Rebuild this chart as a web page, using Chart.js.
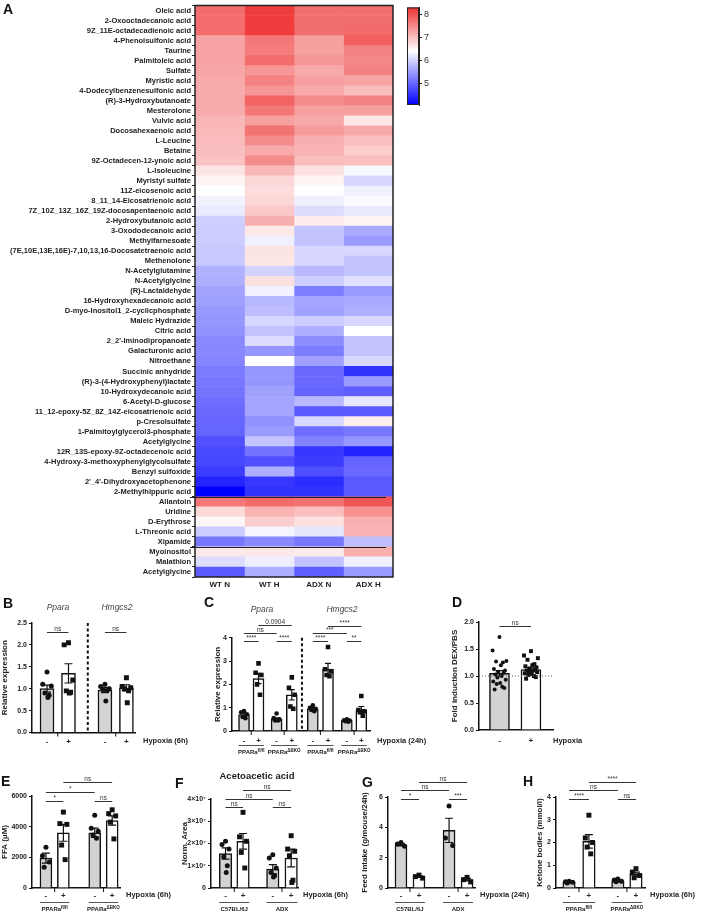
<!DOCTYPE html>
<html>
<head>
<meta charset="utf-8">
<script src="https://cdn.jsdelivr.net/npm/chart.js@4.4.1/dist/chart.umd.min.js"></script>
<style>
  body { margin: 0; background: #fff; width: 709px; height: 915px; position: relative; overflow: hidden;
         font-family: "Liberation Sans", Arial, sans-serif; color: #222; }
  canvas { position: absolute; }
  .t { position: absolute; white-space: nowrap; line-height: 1; }
  .c { transform: translate(-50%, -50%); }
  .l { transform: translateY(-50%); }
  .let { font-weight: bold; font-size: 14px; color: #111; }
  .hyp { font-weight: bold; font-size: 7.5px; }
  .grp { font-weight: bold; font-size: 6px; }
  .gene { font-style: italic; font-size: 8.5px; color: #444; }
  sup { font-size: 75%; position: relative; top: -0.4em; vertical-align: baseline; }
</style>
</head>
<body>
<script>
// ---------- heatmap (panel A) ----------
const metabolites = ['Oleic acid', '2-Oxooctadecanoic acid', '9Z_11E-octadecadienoic acid', '4-Phenolsulfonic acid',
  'Taurine', 'Palmitoleic acid', 'Sulfate', 'Myristic acid', '4-Dodecylbenzenesulfonic acid', '(R)-3-Hydroxybutanoate',
  'Mesterolone', 'Vulvic acid', 'Docosahexaenoic acid', 'L-Leucine', 'Betaine', '9Z-Octadecen-12-ynoic acid',
  'L-Isoleucine', 'Myristyl sulfate', '11Z-eicosenoic acid', '8_11_14-Eicosatrienoic acid',
  '7Z_10Z_13Z_16Z_19Z-docosapentaenoic acid', '2-Hydroxybutanoic acid', '3-Oxododecanoic acid', 'Methylfarnesoate',
  '(7E,10E,13E,16E)-7,10,13,16-Docosatetraenoic acid', 'Methenolone', 'N-Acetylglutamine', 'N-Acetylglycine',
  '(R)-Lactaldehyde', '16-Hydroxyhexadecanoic acid', 'D-myo-Inositol1_2-cyclicphosphate', 'Maleic Hydrazide',
  'Citric acid', "2_2'-Iminodipropanoate", 'Galacturonic acid', 'Nitroethane', 'Succinic anhydride',
  '(R)-3-(4-Hydroxyphenyl)lactate', '10-Hydroxydecanoic acid', '6-Acetyl-D-glucose',
  '11_12-epoxy-5Z_8Z_14Z-eicosatrienoic acid', 'p-Cresolsulfate', '1-Palmitoylglycerol3-phosphate', 'Acetylglycine',
  '12R_13S-epoxy-9Z-octadecenoic acid', '4-Hydroxy-3-methoxyphenylglycolsulfate', 'Benzyl sulfoxide',
  "2'_4'-Dihydroxyacetophenone", '2-Methylhippuric acid', 'Allantoin', 'Uridine', 'D-Erythrose', 'L-Threonic acid',
  'Xipamide', 'Myoinositol', 'Malathion', 'Acetylglycine'];

const wtN = [7.75, 7.75, 7.75, 7.25, 7.25, 7.25, 7.22, 7.2, 7.2, 7.2, 7.18, 7.08, 7.05, 7.03, 7.0, 6.97, 6.65, 6.5, 6.4,
  6.28, 6.22, 5.95, 5.93, 5.93, 5.9, 5.9, 5.68, 5.65, 5.55, 5.52, 5.45, 5.43, 5.4, 5.32, 5.3, 5.28, 5.18, 5.15, 5.12,
  5.05, 5.02, 5.0, 4.97, 4.8, 4.72, 4.7, 4.6, 4.38, 4.05, 7.65, 6.74, 6.47, 5.93, 5.15, 6.6, 6.08, 4.88];
const wtH = [8.2, 8.2, 8.2, 7.65, 7.6, 7.75, 7.37, 7.56, 7.37, 7.84, 7.65, 7.28, 7.7, 7.47, 7.19, 7.47, 7.05, 6.77, 6.72,
  6.77, 6.91, 7.14, 6.61, 6.26, 6.65, 6.63, 5.99, 6.68, 6.26, 5.75, 5.8, 6.03, 5.85, 6.08, 5.43, 6.4, 5.43, 5.43, 5.52,
  5.57, 5.57, 5.39, 5.48, 5.85, 5.11, 4.78, 5.66, 4.56, 4.51, 7.77, 7.1, 6.86, 6.31, 5.3, 6.63, 6.24, 5.66];
const adxN = [7.74, 7.74, 7.74, 7.28, 7.28, 7.37, 7.19, 7.28, 7.19, 7.47, 7.28, 7.19, 7.33, 7.14, 7.1, 7.0, 6.68, 6.49,
  6.4, 6.26, 6.08, 6.58, 5.85, 5.85, 6.03, 6.03, 5.75, 5.94, 5.2, 5.57, 5.52, 5.94, 5.66, 5.34, 5.2, 5.52, 5.02, 5.02,
  4.97, 5.75, 4.88, 6.03, 5.06, 5.25, 4.56, 4.6, 4.78, 4.46, 4.51, 7.7, 7.0, 6.68, 6.17, 5.15, 6.58, 5.85, 4.93];
const adxH = [7.74, 7.74, 7.78, 7.88, 7.56, 7.51, 7.56, 7.24, 7.0, 7.56, 7.28, 6.63, 7.19, 7.0, 6.86, 7.0, 6.33, 6.03,
  6.26, 6.35, 6.21, 6.49, 5.62, 5.48, 6.03, 5.85, 5.85, 6.12, 5.48, 5.62, 5.66, 6.03, 6.4, 5.85, 5.85, 6.03, 4.51, 5.48,
  4.93, 6.17, 4.88, 6.57, 5.15, 5.43, 4.37, 4.97, 5.02, 4.88, 4.88, 7.97, 7.42, 7.14, 7.1, 5.8, 7.14, 6.26, 5.48];
const heatCols = ['WT N', 'WT H', 'ADX N', 'ADX H'];
const separatorsAfter = [48, 53];

// colour scale
const cbMin = 4.05, cbMid = 6.4, cbMax = 8.3;
const cbTicks = [5, 6, 7, 8];

// ---------- panel B ----------
const bSigns = ['-', '+', '-', '+'];
const bMean = [1.0, 1.35, 0.97, 1.02];
const bSem = [0.08, 0.22, 0.06, 0.07];
const bPts = [[1.38, 1.1, 1.06, 0.9, 0.85, 0.8], [2.05, 2.0, 1.2, 0.95, 0.92, 0.9],
  [1.1, 1.05, 1.0, 0.98, 0.96, 0.72], [1.25, 1.05, 1.02, 1.0, 0.95, 0.68]];
const bSig = [[0, 1, 2.3, 'ns'], [2, 3, 2.3, 'ns']];

// ---------- panel C ----------
const cSigns = ['-', '+', '-', '+', '-', '+', '-', '+'];
const cMean = [0.7, 2.25, 0.5, 1.55, 0.95, 2.65, 0.45, 0.9];
const cSem = [0.06, 0.22, 0.06, 0.22, 0.05, 0.25, 0.02, 0.15];
const cPts = [[0.85, 0.8, 0.72, 0.6, 0.55], [2.9, 2.5, 2.4, 2.0, 1.55], [0.75, 0.55, 0.5, 0.45, 0.45],
  [2.3, 1.85, 1.55, 1.05, 0.95], [1.1, 1.0, 0.95, 0.9, 0.85], [3.6, 2.65, 2.55, 2.4, 2.35],
  [0.5, 0.46, 0.45, 0.42, 0.4], [1.5, 0.9, 0.85, 0.8, 0.65]];
const cSig = [[0, 1, 3.87, '****'], [2, 3, 3.87, '****'], [4, 5, 3.87, '****'], [6, 7, 3.87, '**'],
  [0, 2, 4.21, 'ns'], [1, 3, 4.56, '0.0904'], [4, 6, 4.21, '***'], [5, 7, 4.51, '****']];

// ---------- panel D ----------
const dSigns = ['-', '+'];
const dMean = [1.05, 1.12];
const dSem = [0.05, 0.03];
const dPts = [[1.72, 1.47, 1.28, 1.27, 1.25, 1.2, 1.13, 1.1, 1.08, 1.06, 1.03, 1.0, 0.97, 0.93, 0.9, 0.87, 0.85, 0.8, 0.78, 0.75],
  [1.46, 1.38, 1.33, 1.3, 1.22, 1.2, 1.18, 1.16, 1.14, 1.12, 1.1, 1.1, 1.08, 1.07, 1.05, 1.04, 1.02, 1.0, 0.98, 0.95]];
const dSig = [[0, 1, 1.93, 'ns']];

// ---------- panel E ----------
const eMean = [1950, 3600, 3600, 4400];
const eSem = [330, 550, 300, 300];
const ePts = [[2650, 2100, 1700, 1350], [4950, 4200, 4150, 2800, 1850], [4750, 3900, 3700, 3450, 3250],
  [5100, 4850, 4700, 4300, 3200]];
const eSig = [[0, 1, 5700, '*'], [0, 2, 6280, '*'], [1, 3, 6900, 'ns'], [2, 3, 5700, 'ns']];

// ---------- panel F (x 10^7) ----------
const fMean = [1.55e7, 2.1e7, 0.85e7, 1.35e7];
const fSem = [0.25e7, 0.35e7, 0.2e7, 0.4e7];
const fPts = [[2.1e7, 1.95e7, 1.75e7, 1.4e7, 1.0e7, 0.7e7], [3.4e7, 2.3e7, 2.1e7, 1.6e7, 0.9e7],
  [1.5e7, 1.35e7, 0.9e7, 0.7e7, 0.55e7, 0.5e7], [2.35e7, 1.75e7, 1.65e7, 1.45e7, 0.35e7, 0.25e7]];
const fSig = [[0, 1, 3.64e7, 'ns'], [0, 2, 4.0e7, 'ns'], [1, 3, 4.4e7, 'ns'], [2, 3, 3.64e7, 'ns']];

// ---------- panel G ----------
const gMean = [2.85, 0.75, 3.8, 0.55];
const gSem = [0.08, 0.05, 0.8, 0.08];
const gPts = [[3.0, 2.9, 2.75], [0.85, 0.75, 0.65], [5.4, 3.3, 2.8], [0.7, 0.55, 0.4]];
const gSig = [[0, 1, 5.87, '*'], [0, 2, 6.46, 'ns'], [1, 3, 7.0, 'ns'], [2, 3, 5.87, '***']];

// ---------- panel H ----------
const hMean = [0.25, 2.05, 0.3, 0.6];
const hSem = [0.03, 0.3, 0.03, 0.1];
const hPts = [[0.3, 0.28, 0.25, 0.22], [3.2, 2.2, 2.0, 1.8, 1.5], [0.4, 0.35, 0.3, 0.28], [0.85, 0.7, 0.55, 0.45]];
const hSig = [[0, 1, 3.9, '****'], [0, 2, 4.3, 'ns'], [1, 3, 4.65, '****'], [2, 3, 3.9, 'ns']];

const pairSigns = ['-', '+', '-', '+'];
const jitter = [0, -1, 1, -0.5, 0.5, 0.2, -0.8, 0.8, -0.2, 0.6, -0.6, 0.3, -0.3, 0.9, -0.9, 0.1, -0.4, 0.4, 0.7, -0.7];

const GRAY = '#d3d3d3', WHITE = '#ffffff';
Chart.defaults.font.family = '"Liberation Sans", Arial, sans-serif';
Chart.defaults.color = '#222';

function addCanvas(left, top, w, h) {
  const c = document.createElement('canvas');
  c.width = w; c.height = h;
  c.style.left = left + 'px'; c.style.top = top + 'px';
  c.style.width = w + 'px'; c.style.height = h + 'px';
  document.body.appendChild(c);
  return c;
}

function addText(html, x, y, cls, anchor) {
  const d = document.createElement('div');
  d.className = 't ' + (anchor || 'c') + ' ' + cls;
  d.style.left = x + 'px'; d.style.top = y + 'px';
  d.innerHTML = html;
  document.body.appendChild(d);
  return d;
}

function heatColor(v) {
  if (v >= cbMid) {
    const t = Math.min(1, (v - cbMid) / (cbMax - cbMid));
    return `rgb(${Math.round(255 - 17 * t)},${Math.round(255 - 205 * t)},${Math.round(255 - 205 * t)})`;
  }
  const t = Math.min(1, (cbMid - v) / (cbMid - cbMin));
  const c = Math.round(255 * (1 - t));
  return `rgb(${c},${c},255)`;
}

const heatFrame = {
  id: 'heatFrame',
  afterDraw(chart) {
    const { ctx, chartArea: a, scales: { y } } = chart;
    ctx.save();
    ctx.strokeStyle = '#222';
    ctx.lineWidth = 1;
    separatorsAfter.forEach(i => {
      const yy = Math.round((y.getPixelForValue(i) + y.getPixelForValue(i + 1)) / 2) + 0.5;
      ctx.beginPath(); ctx.moveTo(a.left - 5, yy); ctx.lineTo(a.right - 7, yy); ctx.stroke();
    });
    ctx.lineWidth = 1.5;
    ctx.strokeRect(a.left, a.top, a.right - a.left, a.bottom - a.top);
    ctx.restore();
  }
};

// heatmap: one stacked horizontal bar per column, each cell coloured by its value
const heatCanvas = addCanvas(0, 0, 400, 595);
new Chart(heatCanvas, {
  type: 'bar',
  data: {
    labels: metabolites,
    datasets: [wtN, wtH, adxN, adxH].map((vals, c) => ({
      label: heatCols[c],
      data: vals.map(() => 1),
      backgroundColor: vals.map(heatColor),
      borderWidth: 0,
      barPercentage: 1,
      categoryPercentage: 1
    }))
  },
  options: {
    indexAxis: 'y',
    responsive: false,
    animation: false,
    layout: { padding: { top: 3, right: 7, left: 0, bottom: 0 } },
    plugins: { legend: { display: false }, tooltip: { enabled: false } },
    scales: {
      x: {
        type: 'linear', stacked: true, min: 0, max: 4,
        grid: { display: false, drawTicks: false }, border: { display: false },
        afterBuildTicks: a => { a.ticks = heatCols.map((_, i) => ({ value: i + 0.5 })); },
        ticks: { autoSkip: false, maxRotation: 0, padding: 3, font: { size: 8, weight: 'bold' }, color: '#222',
          callback: (v, i) => heatCols[i] },
        afterFit: a => { a.height = 18; }
      },
      y: {
        stacked: true,
        grid: { drawOnChartArea: false, tickLength: 3, color: '#222' }, border: { display: false },
        ticks: { autoSkip: false, padding: 1, font: { size: 7.5, weight: 'bold' }, color: '#222' },
        afterFit: a => { a.width = 195; }
      }
    }
  },
  plugins: [heatFrame]
});

// colour bar
const cbCanvas = addCanvas(400, 0, 45, 115);
new Chart(cbCanvas, {
  type: 'bar',
  data: {
    labels: [''],
    datasets: [{
      data: [[cbMin, cbMax]],
      backgroundColor: ctx => {
        const a = ctx.chart.chartArea;
        if (!a) return '#fff';
        const g = ctx.chart.ctx.createLinearGradient(0, a.bottom, 0, a.top);
        g.addColorStop(0, heatColor(cbMin));
        g.addColorStop((cbMid - cbMin) / (cbMax - cbMin), heatColor(cbMid));
        g.addColorStop(1, heatColor(cbMax));
        return g;
      },
      borderWidth: 0, barPercentage: 1, categoryPercentage: 1
    }]
  },
  options: {
    responsive: false, animation: false,
    layout: { padding: { left: 7, top: 3, bottom: 10, right: 0 } },
    plugins: { legend: { display: false }, tooltip: { enabled: false } },
    scales: {
      x: { display: false },
      y: {
        position: 'right', min: cbMin, max: cbMax,
        grid: { drawOnChartArea: false, tickLength: 3, color: '#222' },
        border: { color: '#222', width: 1 },
        afterBuildTicks: a => { a.ticks = cbTicks.map(v => ({ value: v })); },
        ticks: { padding: 2, font: { size: 9 }, color: '#333' },
        afterFit: a => { a.width = 26; }
      }
    }
  },
  plugins: [{
    id: 'cbFrame',
    afterDraw(chart) {
      const { ctx, chartArea: a } = chart;
      ctx.save(); ctx.strokeStyle = '#222'; ctx.lineWidth = 1;
      ctx.strokeRect(a.left + 0.5, a.top + 0.5, a.right - a.left - 1, a.bottom - a.top - 1);
      ctx.restore();
    }
  }]
});

// error bars, significance brackets, reference lines, group ticks
function marks(cfg) {
  return {
    id: 'marks',
    afterDatasetsDraw(chart) {
      const { ctx, chartArea: a, scales: { x, y } } = chart;
      ctx.save();
      ctx.strokeStyle = '#111';
      ctx.lineWidth = 1.2;
      cfg.pos.forEach((p, i) => {
        const px = x.getPixelForValue(p);
        const top = y.getPixelForValue(cfg.mean[i] + cfg.sem[i]);
        const bot = y.getPixelForValue(Math.max(0, cfg.mean[i] - cfg.sem[i]));
        ctx.beginPath();
        ctx.moveTo(px, top); ctx.lineTo(px, bot);
        ctx.moveTo(px - cfg.cap, top); ctx.lineTo(px + cfg.cap, top);
        ctx.moveTo(px - cfg.cap, bot); ctx.lineTo(px + cfg.cap, bot);
        ctx.stroke();
      });
      if (cfg.vline != null) {
        const vx = x.getPixelForValue(cfg.vline);
        ctx.setLineDash([3, 2.5]); ctx.lineWidth = 2;
        ctx.beginPath(); ctx.moveTo(vx, a.top); ctx.lineTo(vx, a.bottom); ctx.stroke();
      }
      if (cfg.hline != null) {
        const hy = y.getPixelForValue(cfg.hline);
        ctx.setLineDash([1, 2]); ctx.lineWidth = 1; ctx.strokeStyle = '#666';
        ctx.beginPath(); ctx.moveTo(a.left, hy); ctx.lineTo(a.right, hy); ctx.stroke();
      }
      ctx.setLineDash([]);
      ctx.strokeStyle = '#111'; ctx.lineWidth = 1;
      (cfg.groups || []).forEach(([i, j]) => {
        const xa = x.getPixelForValue(cfg.pos[i]), xb = x.getPixelForValue(cfg.pos[j]);
        const m = (xa + xb) / 2;
        ctx.beginPath(); ctx.moveTo(m, a.bottom); ctx.lineTo(m, a.bottom + 4); ctx.stroke();
        if (cfg.underline) {
          const uy = a.bottom + 14.5;
          ctx.strokeStyle = '#555';
          ctx.beginPath(); ctx.moveTo(xa - cfg.barW / 2, uy); ctx.lineTo(xb + cfg.barW / 2, uy); ctx.stroke();
          ctx.strokeStyle = '#111';
        }
      });
      ctx.strokeStyle = '#333';
      ctx.fillStyle = '#333';
      ctx.font = '6.5px "Liberation Sans", Arial, sans-serif';
      ctx.textAlign = 'center';
      ctx.textBaseline = 'bottom';
      cfg.sig.forEach(([i, j, v, lab]) => {
        const yy = Math.round(y.getPixelForValue(v)) + 0.5;
        const xa = x.getPixelForValue(cfg.pos[i]), xb = x.getPixelForValue(cfg.pos[j]);
        ctx.beginPath(); ctx.moveTo(xa, yy); ctx.lineTo(xb, yy); ctx.stroke();
        ctx.fillText(lab, (xa + xb) / 2, yy - 0.5);
      });
      ctx.restore();
    }
  };
}

function barPanel(cfg) {
  const [bl, bt, bw, bh] = cfg.box;
  const [x0, y0, x1, y1] = cfg.area;
  const cv = addCanvas(bl, bt, bw, bh);
  const datasets = [{
    type: 'bar',
    data: cfg.pos.map((p, i) => ({ x: p, y: cfg.mean[i] })),
    backgroundColor: cfg.fill,
    borderColor: '#111',
    borderWidth: 1.5,
    barThickness: cfg.barW,
    order: 2
  }];
  cfg.pts.forEach((vals, i) => datasets.push({
    type: 'scatter',
    data: vals.map((v, k) => ({ x: cfg.pos[i] + jitter[k] * cfg.spread, y: v })),
    pointStyle: cfg.fill[i] === WHITE ? 'rect' : 'circle',
    pointRadius: cfg.fill[i] === WHITE ? cfg.r * 1.4 : cfg.r,
    backgroundColor: '#111',
    borderWidth: 0,
    order: 1
  }));
  const chart = new Chart(cv, {
    type: 'bar',
    data: { datasets },
    options: {
      responsive: false, animation: false,
      layout: { padding: { top: y0 - bt, right: bl + bw - x1, left: 0, bottom: 0 } },
      plugins: { legend: { display: false }, tooltip: { enabled: false } },
      scales: {
        x: {
          type: 'linear', min: cfg.xMin, max: cfg.xMax, offset: false,
          grid: { display: false, drawTicks: false },
          border: { color: '#111', width: 1.5 },
          afterBuildTicks: a => { a.ticks = cfg.pos.map(v => ({ value: v })); },
          ticks: { autoSkip: false, maxRotation: 0, padding: cfg.xPad, font: { size: 8, weight: 'bold' }, color: '#222',
            callback: (v, i) => cfg.signs[i] },
          afterFit: a => { a.height = bt + bh - y1; }
        },
        y: {
          min: 0, max: cfg.yMax,
          grid: { drawOnChartArea: false, tickLength: 3, color: '#111' },
          border: { color: '#111', width: 1.5 },
          ticks: { stepSize: cfg.step, padding: 2, font: { size: 7, weight: 'bold' }, color: '#222', callback: cfg.fmt },
          title: { display: true, text: cfg.yTitle, padding: 0, font: { size: 8, weight: 'bold' }, color: '#222' },
          afterFit: a => { a.width = x0 - bl; }
        }
      }
    },
    plugins: [marks(cfg)]
  });
  (cfg.groupLabels || []).forEach(([i, j, html]) => {
    const xa = chart.scales.x.getPixelForValue(cfg.pos[i]), xb = chart.scales.x.getPixelForValue(cfg.pos[j]);
    addText(html, bl + (xa + xb) / 2, bt + chart.chartArea.bottom + 21, 'grp');
  });
  return chart;
}

const fix1 = v => v.toFixed(1);
const fl = 'PPARa<sup>fl/fl</sup>', bko = 'PPARa<sup>\u0394BKO</sup>';

barPanel({ box: [0, 595, 200, 160], area: [32, 623, 135, 732.5], pos: [1, 2, 3.7, 4.7], xMin: 0.3, xMax: 5.1,
  mean: bMean, sem: bSem, pts: bPts, sig: bSig, signs: bSigns, fill: [GRAY, WHITE, GRAY, WHITE],
  barW: 14, cap: 4, r: 2.5, spread: 0.2, xPad: 4, yMax: 2.5, step: 0.5, fmt: fix1,
  yTitle: 'Relative expression', vline: 2.9, groups: [[0, 1], [2, 3]] });

barPanel({ box: [213, 595, 200, 160], area: [232, 637.7, 370, 731], pos: [1, 2, 3.25, 4.3, 5.75, 6.8, 8.1, 9.1],
  xMin: 0.17, xMax: 9.7, mean: cMean, sem: cSem, pts: cPts, sig: cSig, signs: cSigns,
  fill: [GRAY, WHITE, GRAY, WHITE, GRAY, WHITE, GRAY, WHITE],
  barW: 11, cap: 3, r: 2.3, spread: 0.2, xPad: 5, yMax: 4, step: 1, fmt: v => v,
  yTitle: 'Relative expression', vline: 5.0, groups: [[0, 1], [2, 3], [4, 5], [6, 7]], underline: true,
  groupLabels: [[0, 1, fl], [2, 3, bko], [4, 5, fl], [6, 7, bko]] });

barPanel({ box: [450, 595, 180, 160], area: [479, 622, 553, 730], pos: [1, 2], xMin: 0.35, xMax: 2.7,
  mean: dMean, sem: dSem, pts: dPts, sig: dSig, signs: dSigns, fill: [GRAY, WHITE],
  barW: 20, cap: 4, r: 2, spread: 0.22, xPad: 6, yMax: 2, step: 0.5, fmt: fix1,
  yTitle: 'Fold induction DEX/PBS', hline: 1 });

barPanel({ box: [0, 760, 180, 155], area: [32, 796, 120, 888], pos: [1, 2, 3.8, 4.8], xMin: 0.2, xMax: 5.25,
  mean: eMean, sem: eSem, pts: ePts, sig: eSig, signs: pairSigns, fill: [GRAY, WHITE, GRAY, WHITE],
  barW: 12, cap: 4, r: 2.5, spread: 0.2, xPad: 3, yMax: 6000, step: 2000, fmt: v => v,
  yTitle: 'FFA (\u00b5M)', groups: [[0, 1], [2, 3]], underline: true,
  groupLabels: [[0, 1, fl], [2, 3, bko]] });

barPanel({ box: [180, 760, 180, 155], area: [211, 799, 298, 888], pos: [1, 2, 3.7, 4.75], xMin: 0.17, xMax: 5.14,
  mean: fMean, sem: fSem, pts: fPts, sig: fSig, signs: pairSigns, fill: [GRAY, WHITE, GRAY, WHITE],
  barW: 12.5, cap: 4, r: 2.5, spread: 0.2, xPad: 3, yMax: 4e7, step: 1e7,
  fmt: v => v === 0 ? '0' : Math.round(v / 1e7) + '\u00d710\u2077',
  yTitle: 'Norm. Area', groups: [[0, 1], [2, 3]], underline: true,
  groupLabels: [[0, 1, 'C57BL/6J'], [2, 3, 'ADX']] });

barPanel({ box: [360, 760, 175, 155], area: [388, 797, 475, 888], pos: [1, 2, 3.67, 4.67], xMin: 0.28, xMax: 5.11,
  mean: gMean, sem: gSem, pts: gPts, sig: gSig, signs: pairSigns, fill: [GRAY, WHITE, GRAY, WHITE],
  barW: 12, cap: 4, r: 2.5, spread: 0.2, xPad: 3, yMax: 6, step: 2, fmt: v => v,
  yTitle: 'Feed intake (g/mouse/24h)', groups: [[0, 1], [2, 3]], underline: true,
  groupLabels: [[0, 1, 'C57BL/6J'], [2, 3, 'ADX']] });

barPanel({ box: [535, 760, 174, 155], area: [556, 797, 645, 888], pos: [1, 2.1, 3.7, 4.7], xMin: 0.28, xMax: 5.2,
  mean: hMean, sem: hSem, pts: hPts, sig: hSig, signs: pairSigns, fill: [GRAY, WHITE, GRAY, WHITE],
  barW: 12.5, cap: 4, r: 2.5, spread: 0.2, xPad: 3, yMax: 4, step: 1, fmt: v => v,
  yTitle: 'Ketone bodies (mmol/l)', groups: [[0, 1], [2, 3]], underline: true,
  groupLabels: [[0, 1, fl], [2, 3, bko]] });

// panel letters and free text
addText('A', 3, 9, 'let', 'l');
addText('B', 3, 603, 'let', 'l');
addText('C', 204, 602, 'let', 'l');
addText('D', 452, 602, 'let', 'l');
addText('E', 1, 781, 'let', 'l');
addText('F', 175, 783, 'let', 'l');
addText('G', 362, 782, 'let', 'l');
addText('H', 523, 781, 'let', 'l');

addText('Ppara', 58, 607, 'gene');
addText('Hmgcs2', 117, 607, 'gene');
addText('Ppara', 262, 609, 'gene');
addText('Hmgcs2', 342, 609, 'gene');
addText('Acetoacetic acid', 257, 776, '', 'c').style.cssText += 'font-weight:bold;font-size:9.5px;';

addText('Hypoxia (6h)', 143, 741, 'hyp', 'l');
addText('Hypoxia (24h)', 377, 741, 'hyp', 'l');
addText('Hypoxia', 553, 741, 'hyp', 'l');
addText('Hypoxia (6h)', 126, 895, 'hyp', 'l');
addText('Hypoxia (6h)', 303, 895, 'hyp', 'l');
addText('Hypoxia (24h)', 480, 895, 'hyp', 'l');
addText('Hypoxia (6h)', 650, 895, 'hyp', 'l');
</script>
</body>
</html>
